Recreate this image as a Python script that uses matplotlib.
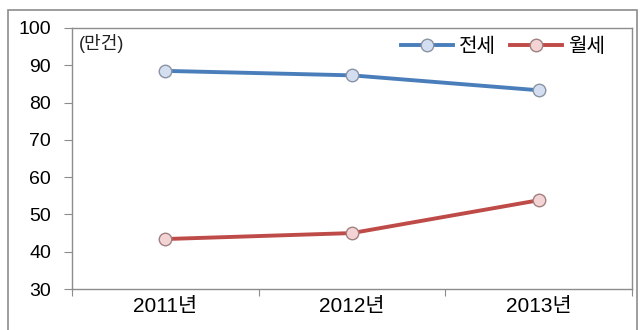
import matplotlib
matplotlib.use("Agg")
import matplotlib.pyplot as plt
from matplotlib.patches import Rectangle

plt.rcParams['font.family'] = ['Liberation Sans', 'Noto Sans CJK KR', 'DejaVu Sans']

years = ["2011년", "2012년", "2013년"]
jeonse = [88.5, 87.3, 83.3]
wolse = [43.4, 45.0, 53.8]
series_names = ["전세", "월세"]
unit_label = "(만건)"

fig = plt.figure(figsize=(6.4, 3.3), dpi=100)
ax = fig.add_axes([72 / 640, 1 - 289 / 330, 560 / 640, 261 / 330])

# outer frame around the whole chart (bottom edge falls off the image)
fig.patches.append(Rectangle((8 / 640, -5 / 330), 629 / 640, 325 / 330,
                             transform=fig.transFigure, fill=False,
                             edgecolor="#8c8c8c", linewidth=1.2))

x = list(range(len(years)))
ax.plot(x, jeonse, color="#4a7ebb", linewidth=2.8, marker="o", markersize=9,
        markerfacecolor="#d3def0", markeredgecolor="#8a93a3", markeredgewidth=1.0,
        label=series_names[0])
ax.plot(x, wolse, color="#be4b48", linewidth=2.8, marker="o", markersize=9,
        markerfacecolor="#f3d3d3", markeredgecolor="#a08080", markeredgewidth=1.0,
        label=series_names[1])

ax.set_xlim(-0.5, len(years) - 0.5)
ax.set_ylim(30, 100)
ax.set_yticks(range(30, 101, 10))

# category boundary ticks, labels in the middle
ax.set_xticks([i - 0.5 for i in range(len(years) + 1)])
ax.set_xticklabels([])
ax.set_xticks(x, minor=True)
ax.set_xticklabels(years, minor=True, fontsize=15)
ax.tick_params(axis="x", which="minor", length=0, pad=6)
ax.tick_params(axis="x", which="major", length=5, color="#8c8c8c", direction="out")
ax.tick_params(axis="y", length=6, color="#8c8c8c", direction="out", labelsize=14, pad=9)

for s in ax.spines.values():
    s.set_color("#8c8c8c")
    s.set_linewidth(1.0)

ax.text(0.013, 0.94, unit_label, transform=ax.transAxes, fontsize=13,
        va="center", ha="left", color="#222222")

leg = ax.legend(loc="upper right", ncol=2, frameon=False,
                prop={"size": 14.5},
                bbox_to_anchor=(0.985, 1.035), handlelength=2.6, columnspacing=0.7,
                handletextpad=0.3)

fig.savefig("out.png", dpi=100)
